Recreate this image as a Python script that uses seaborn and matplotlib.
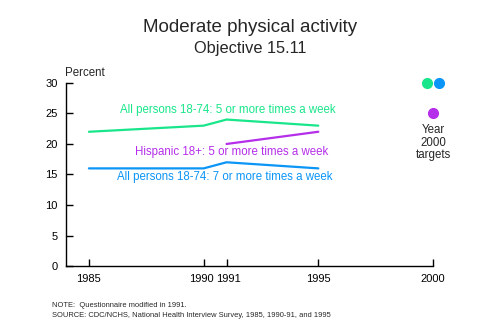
import matplotlib
matplotlib.use("Agg")
import matplotlib.pyplot as plt
import matplotlib.transforms as mtransforms
import seaborn as sns
import pandas as pd

years_all = [1985, 1990, 1991, 1995]
all5 = [22, 23, 24, 23]
all7 = [16, 16, 17, 16]
years_hisp = [1991, 1995]
hisp5 = [20, 22]
target_year = 2000
targets = {"all5": 30, "all7": 30, "hisp5": 25}
xticks = [1985, 1990, 1991, 1995, 2000]
yticks = [0, 5, 10, 15, 20, 25, 30]

series_names = {
    "all5": "All persons 18-74: 5 or more times a week",
    "hisp5": "Hispanic 18+: 5 or more times a week",
    "all7": "All persons 18-74: 7 or more times a week",
}
colors = {"all5": "#19e68a", "hisp5": "#b52ee9", "all7": "#0b95f6"}

rows = []
for y, v in zip(years_all, all5):
    rows.append(("all5", y, v))
for y, v in zip(years_all, all7):
    rows.append(("all7", y, v))
for y, v in zip(years_hisp, hisp5):
    rows.append(("hisp5", y, v))
df = pd.DataFrame(rows, columns=["series", "year", "value"])

sns.set_theme(style="white")
plt.rcParams["font.family"] = ["Liberation Sans", "DejaVu Sans"]

fig = plt.figure(figsize=(5, 3.33), dpi=100)
ax = fig.add_axes([0.132, 0.201, 0.734, 0.55])

sns.lineplot(data=df, x="year", y="value", hue="series", palette=colors,
             linewidth=1.6, ax=ax, legend=False, estimator=None, sort=True)

# targets
tdf = pd.DataFrame({"series": list(targets.keys()),
                    "year": [target_year] * 3,
                    "value": list(targets.values())})
offsets = {"all5": -0.25, "all7": 0.25, "hisp5": 0.0}
for _, r in tdf.iterrows():
    ax.plot(r["year"] + offsets[r["series"]], r["value"], "o",
            color=colors[r["series"]], markersize=7, clip_on=False)

ax.set_xlim(1984, 2000)
ax.set_ylim(0, 30)
ax.set_xticks(xticks)
ax.set_xticklabels([str(x) for x in xticks])
ax.set_yticks(yticks)
ax.set_xlabel("")
ax.set_ylabel("")
for s in ["top", "right"]:
    ax.spines[s].set_visible(False)
for s in ["left", "bottom"]:
    ax.spines[s].set_color("black")
    ax.spines[s].set_linewidth(1.0)
ax.tick_params(axis="both", direction="in", length=5, width=1, colors="black",
               labelsize=8, pad=6, left=True, bottom=True)

# nudge the crowded 1990/1991 labels apart slightly
for lbl in ax.get_xticklabels():
    if lbl.get_text() == "1990":
        lbl.set_transform(lbl.get_transform() + mtransforms.ScaledTranslation(-2.5 / 100, 0, fig.dpi_scale_trans))
    elif lbl.get_text() == "1991":
        lbl.set_transform(lbl.get_transform() + mtransforms.ScaledTranslation(2.0 / 100, 0, fig.dpi_scale_trans))

ax.text(1991.05, 25.6, series_names["all5"], color=colors["all5"],
        ha="center", va="center", fontsize=8.3)
ax.text(1991.2, 18.7, series_names["hisp5"], color=colors["hisp5"],
        ha="center", va="center", fontsize=8.3)
ax.text(1990.9, 14.6, series_names["all7"], color=colors["all7"],
        ha="center", va="center", fontsize=8.3)

ax.text(2000, 23.2, "Year\n2000\ntargets", ha="center", va="top",
        fontsize=8.3, linespacing=1.05)

fig.text(0.17, 0.78, "Percent", ha="center", va="center", fontsize=8.3)
fig.text(0.5, 0.918, "Moderate physical activity", ha="center", va="center", fontsize=13.5)
fig.text(0.5, 0.855, "Objective 15.11", ha="center", va="center", fontsize=11.8)

fig.text(0.104, 0.068, "NOTE:  Questionnaire modified in 1991.\nSOURCE: CDC/NCHS, National Health Interview Survey, 1985, 1990-91, and 1995",
         ha="left", va="center", fontsize=5.4, linespacing=1.5)

fig.savefig("out.png", dpi=100)
